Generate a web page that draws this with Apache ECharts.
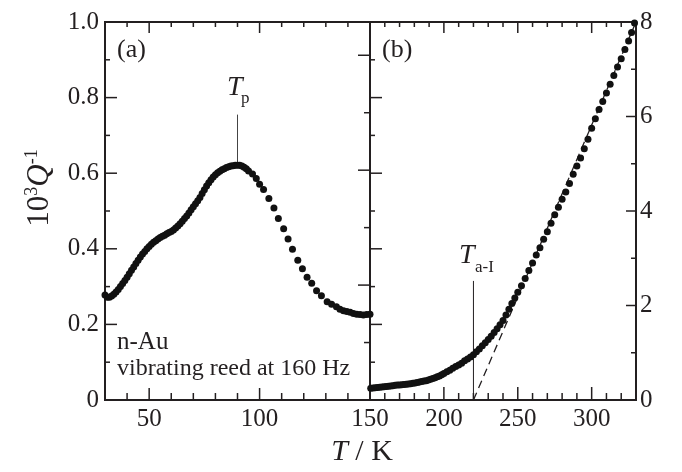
<!DOCTYPE html>
<html>
<head>
<meta charset="utf-8">
<script src="https://cdn.jsdelivr.net/npm/echarts@6/dist/echarts.min.js"></script>
</head>
<body style="margin:0">
<div id="container" style="width:682px;height:472px"></div>
<script>
// panel (a): 30-150 K
var leftT = [30,31,32,33,34,35,36,37,38,39,40,41,42,43,44,45,46,47,48,49,50,51,52,53,54,55,56,57,58,59,
  60,61,62,63,64,65,66,67,68,69,70,71,72,73,74,75,76,77,78,79,80,81,82,83,84,85,86,87,88,89,
  90,91,92,93,94,95,96.8,98.5,100,101.8,104.2,106.5,108.5,110.9,112.9,114.9,117.3,119.4,121.5,123.6,
  125.8,128,130.6,132.6,134.8,136.4,138,139.5,141,142.5,144,145.5,147,148.5,150];
var leftQ = [0.278,0.272,0.272,0.275,0.280,0.286,0.292,0.300,0.308,0.316,
  0.325,0.334,0.343,0.352,0.361,0.370,0.378,0.386,0.393,0.400,
  0.406,0.412,0.417,0.421,0.426,0.430,0.433,0.436,0.440,0.443,
  0.446,0.450,0.455,0.460,0.466,0.473,0.480,0.487,0.495,0.503,
  0.511,0.519,0.527,0.536,0.546,0.556,0.566,0.575,0.583,0.590,
  0.596,0.601,0.605,0.609,0.612,0.615,0.617,0.619,0.620,0.621,
  0.621,0.621,0.619,0.616,0.612,0.606,
  0.598,0.586,0.571,0.557,0.533,0.508,0.480,0.453,0.426,0.399,
  0.370,0.347,0.325,0.309,0.289,0.276,0.260,0.253,0.247,0.240,
  0.236,0.234,0.232,0.229,0.227,0.226,0.225,0.226,0.227];

// panel (b): 150-330 K
var rightT = [150.5,152,153.5,155,156.5,158,159.5,161,162.5,164,
  165.5,167,168.5,170,171.5,173,174.5,176,177.5,179,
  180.5,182,183.5,185,186.5,188,189.5,191,192.5,194,
  195.5,197,198.5,200,
  202,204,206,208,210,212,214,216,218,220,
  222,224,226,228,230,232,234,236,238,240,
  242,244,246,248,250,
  252.5,255,257.5,260,262.5,265,267.5,270,272.5,275,
  277.5,280,282.5,285,287.5,290,292.5,295,297.5,300,
  302.5,305,307.5,310,312.5,315,317.5,320,322.5,325,
  327,329];
var rightQ = [0.25,0.255,0.26,0.265,0.27,0.275,0.28,0.285,0.29,0.295,
  0.30,0.31,0.315,0.32,0.325,0.33,0.335,0.34,0.345,0.355,
  0.36,0.37,0.38,0.39,0.40,0.41,0.425,0.44,0.455,0.47,
  0.49,0.51,0.535,0.56,
  0.60,0.63,0.67,0.71,0.74,0.78,0.83,0.87,0.91,0.96,
  1.02,1.08,1.15,1.21,1.28,1.35,1.43,1.51,1.59,1.68,
  1.80,1.92,2.04,2.16,2.28,
  2.42,2.57,2.74,2.90,3.07,3.22,3.40,3.56,3.74,3.92,
  4.08,4.25,4.40,4.58,4.78,4.95,5.12,5.32,5.52,5.75,
  5.95,6.15,6.32,6.50,6.68,6.87,7.05,7.22,7.42,7.60,
  7.78,7.98];

// markers
var tpLine = [[90, 0.62], [90, 0.755]];
var taLine = [[220, 0], [220, 2.52]];
var fitLine = [[220, 0], [330, 8]];

// tick values and labels
var aMajor = [50, 100];
var bMajor = [150, 200, 250, 300];
var aTicksX = [40, 50, 60, 70, 80, 90, 100, 110, 120, 130, 140];
var bTicksX = [160, 170, 180, 190, 200, 210, 220, 230, 240, 250, 260, 270, 280, 290, 300, 310, 320];
var aTicksY = [0.1, 0.2, 0.3, 0.4, 0.5, 0.6, 0.7, 0.8, 0.9];
var bTicksY = [1, 2, 3, 4, 5, 6, 7];
var aRightLong = [0.304, 0.608, 0.912];
var aRightShort = [0.152, 0.456, 0.76];

var ink = '#231f20';
var serif = 'Liberation Serif';

var dom = document.getElementById('container');
var myChart = echarts.init(dom);

function lbl(extra) {
  return Object.assign({show: true, color: ink, fontFamily: serif, fontSize: 25}, extra);
}

function axis(grid, min, max, pos, opts) {
  var a = {
    gridIndex: grid, type: 'value', min: min, max: max, position: pos,
    axisLine: {show: true, onZero: false, lineStyle: {color: ink, width: 2}},
    axisTick: {show: false},
    axisLabel: {show: false},
    splitLine: {show: false}
  };
  return Object.assign(a, opts);
}

// tick marks: [x, y, dx px, dy px], pointing into the frame
function isMajor(v, step) { return Math.abs(v / step - Math.round(v / step)) < 1e-6; }

var ticksA = [];
aTicksX.forEach(function (x) {
  var big = aMajor.indexOf(x) >= 0;
  ticksA.push([x, 0, 0, big ? -12 : -7]);
  ticksA.push([x, 1, 0, big ? 11 : 5]);
});
aTicksY.forEach(function (y) {
  ticksA.push([30, y, isMajor(y, 0.2) ? 12 : 5, 0]);
});
aRightLong.forEach(function (y) { ticksA.push([150, y, -12, 0]); });
aRightShort.forEach(function (y) { ticksA.push([150, y, -6, 0]); });

var ticksB = [];
bTicksX.forEach(function (x) {
  var big = bMajor.indexOf(x) >= 0;
  ticksB.push([x, 0, 0, big ? -13 : -7]);
  ticksB.push([x, 8, 0, big ? 11 : 5]);
});
bTicksY.forEach(function (y) {
  ticksB.push([330, y, isMajor(y, 2) ? -10 : -5, 0]);
});
aTicksY.forEach(function (y) {
  // divider ticks on the right side follow the 0-1 scale of panel (a)
  ticksB.push([150, y * 8, isMajor(y, 0.2) ? 12 : 5, 0]);
});

function renderTick(params, api) {
  var p = api.coord([api.value(0), api.value(1)]);
  return {
    type: 'line',
    shape: {x1: p[0], y1: p[1], x2: p[0] + api.value(2), y2: p[1] + api.value(3)},
    style: {stroke: ink, lineWidth: 1.5}
  };
}

var option = {
  animation: false,
  backgroundColor: '#fff',
  grid: [
    {left: 105, top: 22, width: 265, height: 378, show: true, borderColor: ink, borderWidth: 2, backgroundColor: 'transparent'},
    {left: 370, top: 22, width: 266, height: 378, show: true, borderColor: ink, borderWidth: 2, backgroundColor: 'transparent'}
  ],
  xAxis: [
    axis(0, 30, 150, 'bottom', {axisLabel: lbl({margin: 7, customValues: aMajor})}),
    axis(1, 150, 330, 'bottom', {axisLabel: lbl({margin: 7, customValues: bMajor, showMinLabel: true})})
  ],
  yAxis: [
    axis(0, 0, 1, 'left', {
      interval: 0.2,
      axisLabel: lbl({margin: 6, formatter: function (v) { return v === 0 ? '0' : v.toFixed(1); }})
    }),
    axis(1, 0, 8, 'right', {interval: 2, axisLabel: lbl({margin: 4})})
  ],
  series: [
    {
      type: 'custom', xAxisIndex: 0, yAxisIndex: 0, data: ticksA, renderItem: renderTick,
      encode: {x: 0, y: 1}, clip: false, silent: true, z: 4
    },
    {
      type: 'custom', xAxisIndex: 1, yAxisIndex: 1, data: ticksB, renderItem: renderTick,
      encode: {x: 0, y: 1}, clip: false, silent: true, z: 4
    },
    {
      type: 'line', xAxisIndex: 1, yAxisIndex: 1, data: fitLine, symbol: 'none', z: 1,
      lineStyle: {color: ink, width: 1.3, type: [8, 5]}
    },
    {
      type: 'line', xAxisIndex: 0, yAxisIndex: 0, data: tpLine, symbol: 'none', z: 1,
      lineStyle: {color: '#444', width: 1}
    },
    {
      type: 'line', xAxisIndex: 1, yAxisIndex: 1, data: taLine, symbol: 'none', z: 1,
      lineStyle: {color: ink, width: 1}
    },
    {
      type: 'scatter', xAxisIndex: 0, yAxisIndex: 0, symbolSize: 7, clip: false, z: 3,
      itemStyle: {color: '#111', opacity: 1},
      data: leftT.map(function (t, i) { return [t, leftQ[i]]; })
    },
    {
      type: 'scatter', xAxisIndex: 1, yAxisIndex: 1, symbolSize: 7, clip: false, z: 3,
      itemStyle: {color: '#111', opacity: 1},
      data: rightT.map(function (t, i) { return [t, rightQ[i]]; })
    }
  ],
  graphic: [
    {type: 'text', x: 117, y: 50, style: {text: '(a)', fill: ink, font: '26px "Liberation Serif"', verticalAlign: 'middle'}},
    {type: 'text', x: 382, y: 50, style: {text: '(b)', fill: ink, font: '26px "Liberation Serif"', verticalAlign: 'middle'}},
    {type: 'text', x: 117, y: 342, style: {text: 'n-Au', fill: ink, font: '25px "Liberation Serif"', verticalAlign: 'middle'}},
    {type: 'text', x: 117, y: 368.5, style: {text: 'vibrating reed at 160 Hz', fill: ink, font: '24px "Liberation Serif"', verticalAlign: 'middle'}},
    {type: 'text', x: 227, y: 87.5, style: {text: 'T', fill: ink, font: 'italic 28px "Liberation Serif"', verticalAlign: 'middle'}},
    {type: 'text', x: 241, y: 99, style: {text: 'p', fill: ink, font: '17px "Liberation Serif"', verticalAlign: 'middle'}},
    {type: 'text', x: 459, y: 255.5, style: {text: 'T', fill: ink, font: 'italic 28px "Liberation Serif"', verticalAlign: 'middle'}},
    {type: 'text', x: 475, y: 267.5, style: {text: 'a-I', fill: ink, font: '17px "Liberation Serif"', verticalAlign: 'middle'}},
    {
      type: 'text', x: 362, y: 452,
      style: {
        text: '{i|T} / K', fill: ink, align: 'center', verticalAlign: 'middle',
        font: '30px "Liberation Serif"',
        rich: {i: {fontStyle: 'italic', fontFamily: serif, fontSize: 30}}
      }
    },
    {
      type: 'text', x: 40, y: 188, rotation: Math.PI / 2,
      style: {
        text: '{n|10}{s|3}{i|Q}{s|-1}', fill: ink, align: 'center', verticalAlign: 'middle',
        rich: {
          n: {fontFamily: serif, fontSize: 31, lineHeight: 34, fill: ink},
          i: {fontFamily: serif, fontStyle: 'italic', fontSize: 31, lineHeight: 34, fill: ink},
          s: {fontFamily: serif, fontSize: 18, lineHeight: 34, verticalAlign: 'top', fill: ink, padding: [0, 0, 12, 0]}
        }
      }
    }
  ]
};

myChart.setOption(option);
</script>
</body>
</html>
